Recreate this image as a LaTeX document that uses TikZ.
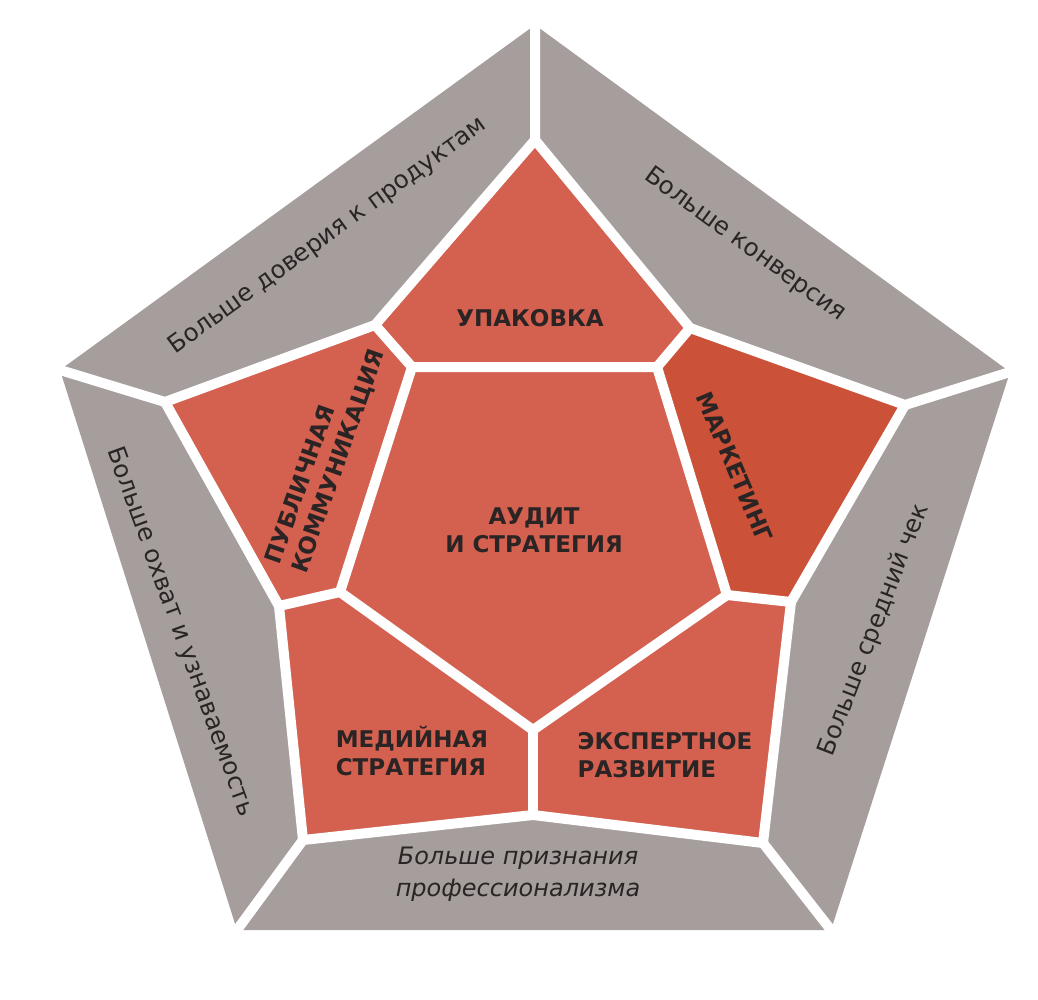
\documentclass[tikz,border=0pt]{standalone}
\usepackage{fontspec}
\setmainfont{DejaVu Sans}
\definecolor{redA}{HTML}{D4604F}
\definecolor{redM}{HTML}{CB5238}
\definecolor{grayB}{HTML}{A69E9C}
\definecolor{ink}{HTML}{2A2424}
\begin{document}
\begin{tikzpicture}[x=1pt,y=-1pt,
  gap/.style={draw=white,line width=10pt,line join=round,line cap=round},
  lab/.style={font=\bfseries\fontsize{23}{28}\selectfont,text=ink,inner sep=0pt},
  band/.style={font=\fontsize{24.5}{30}\selectfont,text=ink,inner sep=0pt},
  bandit/.style={font=\itshape\fontsize{24}{32}\selectfont,text=ink,inner sep=0pt,align=center}]
\fill[white] (0,0) rectangle (1038,1000);
\useasboundingbox (0,0) rectangle (1038,1000);
% outer pentagon
\coordinate (O1) at (535,25);
\coordinate (O2) at (1010,372);
\coordinate (O3) at (831,930);
\coordinate (O4) at (237,930);
\coordinate (O5) at (60,370);
% junctions
\coordinate (T) at (535,140);
\coordinate (A) at (375,325);
\coordinate (B) at (690,328);
\coordinate (C) at (905,405);
\coordinate (D) at (791,602);
\coordinate (E) at (763,843);
\coordinate (F) at (533,815);
\coordinate (G) at (303,840);
\coordinate (H) at (279,606);
\coordinate (I) at (165,402);
% centre pentagon
\coordinate (P1) at (412,367);
\coordinate (P2) at (657,367);
\coordinate (P3) at (727,595);
\coordinate (P4) at (533,730);
\coordinate (P5) at (340,592);
% fills
\fill[grayB] (O1)--(O2)--(O3)--(O4)--(O5)--cycle;
\fill[redA] (T)--(B)--(P2)--(P1)--(A)--cycle;
\fill[redM] (B)--(C)--(D)--(P3)--(P2)--cycle;
\fill[redA] (P3)--(D)--(E)--(F)--(P4)--cycle;
\fill[redA] (P4)--(F)--(G)--(H)--(P5)--cycle;
\fill[redA] (P5)--(H)--(I)--(A)--(P1)--cycle;
\fill[redA] (P1)--(P2)--(P3)--(P4)--(P5)--cycle;
% gaps
\draw[gap] (O1)--(T)--(A)--(I)--(O5);
\draw[gap] (T)--(B)--(C)--(O2);
\draw[gap] (A)--(P1)--(P2)--(B);
\draw[gap] (C)--(D)--(E)--(O3);
\draw[gap] (D)--(P3);
\draw[gap] (E)--(F)--(G)--(O4);
\draw[gap] (F)--(P4);
\draw[gap] (G)--(H)--(I);
\draw[gap] (H)--(P5);
\draw[gap] (P1)--(P5)--(P4)--(P3)--(P2);
% inner labels
\node[lab] (upak) at (530,318) {УПАКОВКА};
\node[lab,align=center] (audit) at (534,530) {АУДИТ\\И СТРАТЕГИЯ};
\node[lab,align=left,rotate=70.5] (publ) at (326,457) {ПУБЛИЧНАЯ\\КОММУНИКАЦИЯ};
\node[lab,rotate=-67] (mark) at (735,467) {МАРКЕТИНГ};
\node[lab,align=left] (med) at (412,751) {МЕДИЙНАЯ\\СТРАТЕГИЯ};
\node[lab,align=left] (exp) at (665,755) {ЭКСПЕРТНОЕ\\РАЗВИТИЕ};
% band labels
\node[band,rotate=36] (tl) at (328,236) {Больше доверия к продуктам};
\node[band,rotate=-36] (tr) at (745,245) {Больше конверсия};
\node[band,rotate=69] (rt) at (874,630) {Больше средний чек};
\node[band,rotate=-70] (lt) at (180,632) {Больше охват и узнаваемость};
\node[bandit] (bt) at (518,874) {Больше признания\\профессионализма};
\end{tikzpicture}
\end{document}
